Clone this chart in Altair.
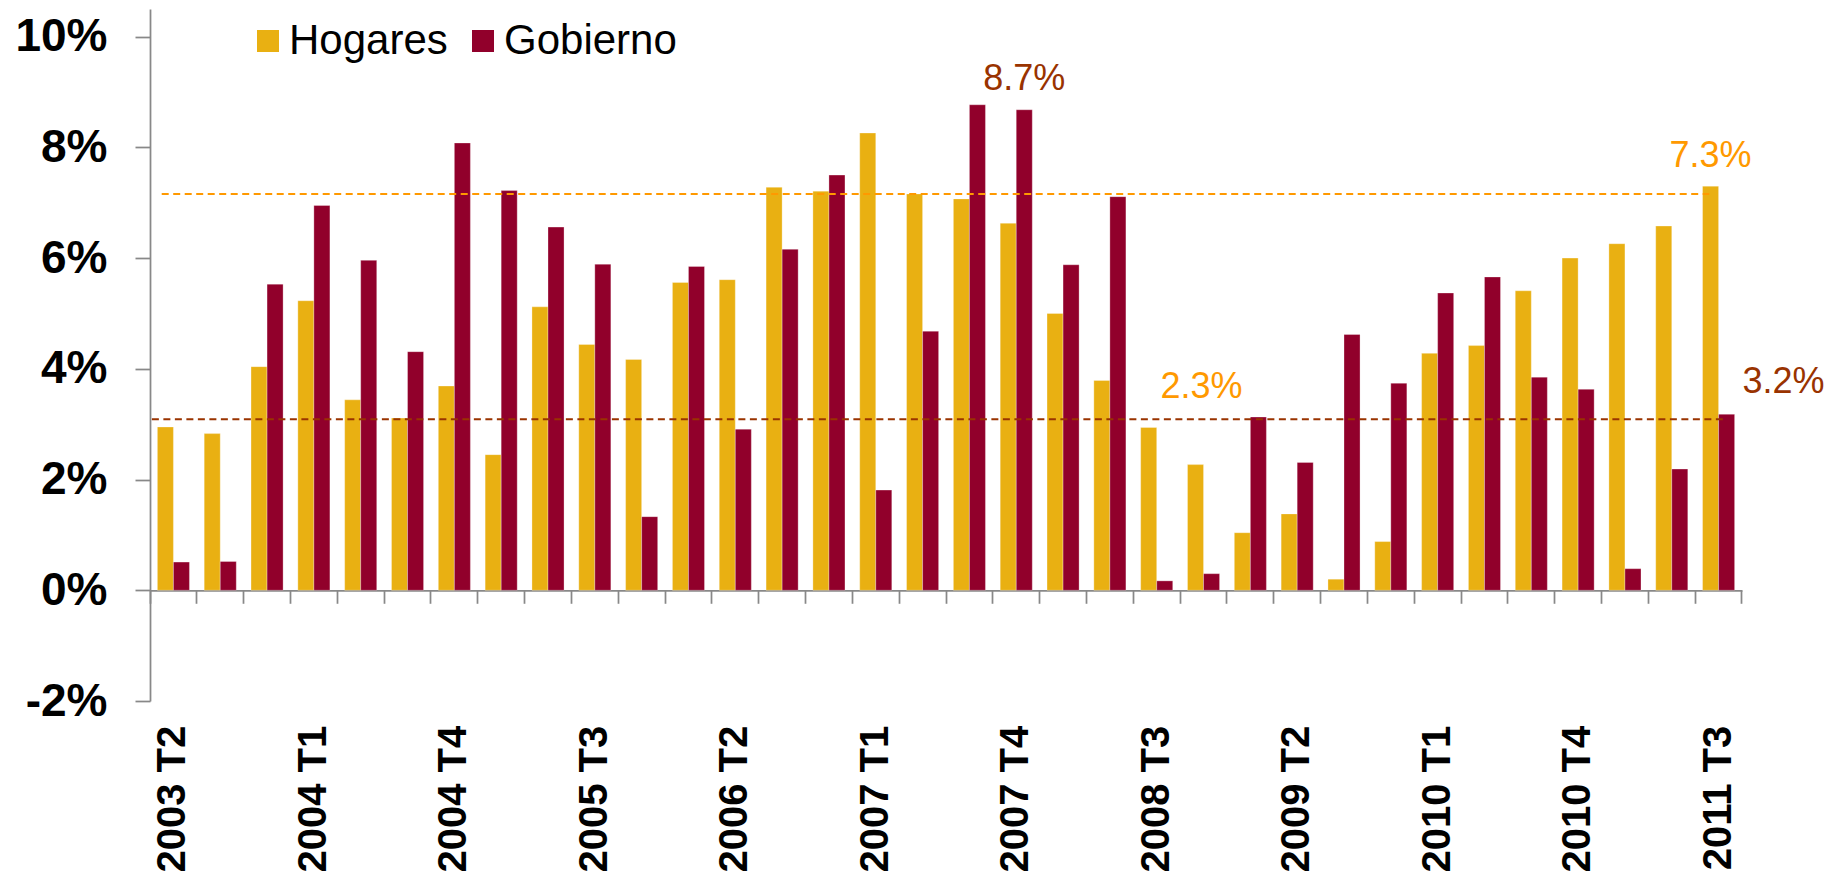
import altair as alt
import pandas as pd

QUARTERS = [
    "2003 T2", "2003 T3", "2003 T4",
    "2004 T1", "2004 T2", "2004 T3", "2004 T4",
    "2005 T1", "2005 T2", "2005 T3", "2005 T4",
    "2006 T1", "2006 T2", "2006 T3", "2006 T4",
    "2007 T1", "2007 T2", "2007 T3", "2007 T4",
    "2008 T1", "2008 T2", "2008 T3", "2008 T4",
    "2009 T1", "2009 T2", "2009 T3", "2009 T4",
    "2010 T1", "2010 T2", "2010 T3", "2010 T4",
    "2011 T1", "2011 T2", "2011 T3",
]
TICK_LABELS = ["2003 T2", "2004 T1", "2004 T4", "2005 T3", "2006 T2", "2007 T1",
               "2007 T4", "2008 T3", "2009 T2", "2010 T1", "2010 T4", "2011 T3"]
HOGARES = [2.95, 2.83, 4.04, 5.23, 3.44, 3.11, 3.69, 2.45, 5.12, 4.44, 4.17,
           5.56, 5.61, 7.28, 7.21, 8.26, 7.16, 7.07, 6.63, 5.00, 3.79, 2.94,
           2.27, 1.04, 1.38, 0.20, 0.88, 4.28, 4.42, 5.41, 6.00, 6.26, 6.58, 7.30]
GOBIERNO = [0.51, 0.52, 5.53, 6.95, 5.96, 4.31, 8.08, 7.22, 6.56, 5.89, 1.33,
            5.85, 2.91, 6.16, 7.50, 1.81, 4.68, 8.77, 8.68, 5.88, 7.11, 0.17,
            0.30, 3.13, 2.31, 4.62, 3.74, 5.37, 5.66, 3.85, 3.63, 0.39, 2.19, 3.18]
SERIES = ["Hogares", "Gobierno"]
COLORS = ["#E9B012", "#91002B"]
Y_TICKS = [-2, 0, 2, 4, 6, 8, 10]
Y_DOMAIN = [-2, 10.5]
REF_HOGARES = 7.16
REF_GOBIERNO = 3.09
# annotations: (text, quarter, series)
ANNOTATIONS = [
    ("8.7%", "2007 T4", "Gobierno"),
    ("7.3%", "2011 T3", "Hogares"),
    ("2.3%", "2008 T4", "Hogares"),
    ("3.2%", "2011 T3", "Gobierno"),
]

ORANGE = "#FF9900"
BROWN = "#993300"
FONT = "Liberation Sans"

W, H = 1592, 692

rows = []
for q, h, g in zip(QUARTERS, HOGARES, GOBIERNO):
    rows.append({"quarter": q, "serie": "Hogares", "value": h})
    rows.append({"quarter": q, "serie": "Gobierno", "value": g})
df = pd.DataFrame(rows)

x_scale = alt.Scale(domain=QUARTERS, paddingInner=0, paddingOuter=0)
xo_scale = alt.Scale(domain=SERIES, paddingInner=0, paddingOuter=0.46)
y_scale = alt.Scale(domain=Y_DOMAIN, nice=False, zero=False)

axis_offset = -(0 - Y_DOMAIN[0]) / (Y_DOMAIN[1] - Y_DOMAIN[0]) * H

label_list = "[" + ",".join("'" + t + "'" for t in TICK_LABELS) + "]"

X_AXIS = alt.Axis(
    title=None,
    labelAngle=-90, labelAlign="right", labelBaseline="middle",
    labelExpr=f"indexof({label_list}, datum.value) >= 0 ? datum.value : ''",
    labelFont=FONT, labelFontSize=40, labelFontWeight="bold", labelColor="#000000",
    labelPadding=122, labelOverlap=False, labelBound=False, labelFlush=False,
    tickSize=13, tickWidth=1.75, tickColor="#888888",
    bandPosition=1, tickExtra=True,
    domainColor="#888888", domainWidth=1.75,
    offset=axis_offset, grid=False)

Y_AXIS = alt.Axis(
    title=None, values=Y_TICKS, labelExpr="datum.value + '%'",
    labelFont=FONT, labelFontSize=46, labelFontWeight="bold",
    labelColor="#000000", labelPadding=28,
    tickSize=15, tickWidth=1.75, tickColor="#888888",
    domainColor="#888888", domainWidth=1.75, grid=False)

bars = alt.Chart(df).mark_bar(stroke="#ffffff", strokeWidth=0.6, strokeOpacity=0.5).encode(
    x=alt.X("quarter:O", scale=x_scale, title=None, axis=X_AXIS),
    xOffset=alt.XOffset("serie:N", scale=xo_scale),
    y=alt.Y("value:Q", scale=y_scale, title=None, axis=Y_AXIS),
    color=alt.Color("serie:N", scale=alt.Scale(domain=SERIES, range=COLORS),
                    legend=alt.Legend(title=None, orient="none", legendX=97, legendY=11,
                                      direction="horizontal", symbolType="square",
                                      symbolSize=484, symbolStrokeWidth=0,
                                      labelFont=FONT, labelFontSize=42, labelColor="#000000",
                                      labelOffset=0, columnPadding=14, padding=0,
                                      labelLimit=400)),
)

ref_df = pd.DataFrame({"v": [0]})

rule_h = alt.Chart(ref_df).mark_rule(color=ORANGE, strokeWidth=2, strokeDash=[7, 4.5]).encode(
    x=alt.XDatum(QUARTERS[0], type="ordinal", bandPosition=0.25, axis=X_AXIS),
    x2=alt.X2Datum(QUARTERS[-1], bandPosition=0.3),
    y=alt.YDatum(REF_HOGARES, type="quantitative", axis=Y_AXIS),
)
rule_g = alt.Chart(ref_df).mark_rule(color=BROWN, strokeWidth=2, strokeDash=[7, 4.5]).encode(
    x=alt.XDatum(QUARTERS[0], type="ordinal", bandPosition=0.04, axis=X_AXIS),
    x2=alt.X2Datum(QUARTERS[-1], bandPosition=0.59),
    y=alt.YDatum(REF_GOBIERNO, type="quantitative", axis=Y_AXIS),
)

value_lookup = {(r["quarter"], r["serie"]): r["value"] for r in rows}
text_offsets = {"8.7%": (0, -20), "7.3%": (0, -19), "2.3%": (6, -67), "3.2%": (57, -21)}

texts = []
for txt, q, s in ANNOTATIONS:
    adf = pd.DataFrame([{"quarter": q, "serie": s, "value": value_lookup[(q, s)], "label": txt}])
    dx, dy = text_offsets[txt]
    t = alt.Chart(adf).mark_text(
        font=FONT, fontSize=36, color=(ORANGE if s == "Hogares" else BROWN),
        align="center", baseline="alphabetic", dx=dx, dy=dy,
    ).encode(
        x=alt.X("quarter:O", axis=X_AXIS),
        xOffset=alt.XOffset("serie:N"),
        y=alt.Y("value:Q", axis=Y_AXIS),
        text="label:N",
    )
    texts.append(t)

chart = alt.layer(bars, rule_h, rule_g, *texts).properties(
    width=W, height=H,
    autosize=alt.AutoSizeParams(type="none"),
    padding={"left": 142, "top": 1, "right": 96, "bottom": 178},
    background="#ffffff",
).configure_view(stroke=None)

chart.save("out.html", embed_options={"renderer": "svg", "actions": False})
